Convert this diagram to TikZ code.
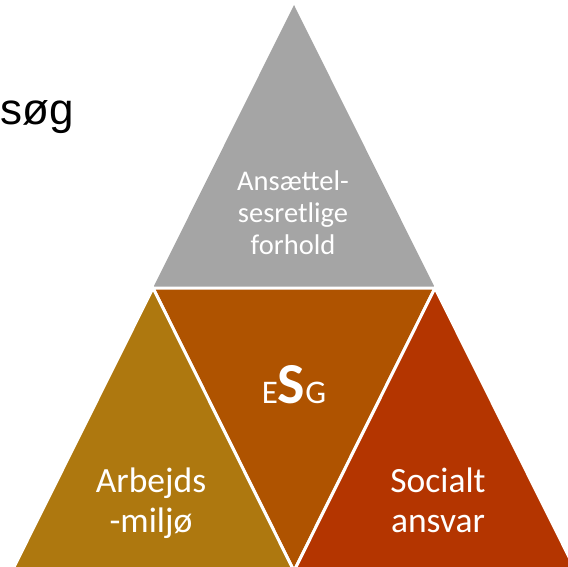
\documentclass[tikz,border=0pt]{standalone}
\usepackage{fontspec}
\setmainfont{Carlito}
\newfontfamily\arialfont{Liberation Sans}
\definecolor{topgray}{HTML}{A5A5A5}
\definecolor{midorange}{HTML}{AF5300}
\definecolor{leftgold}{HTML}{AE780F}
\definecolor{rightred}{HTML}{B43500}
\begin{document}
\begin{tikzpicture}[x=1pt,y=-1pt,
  tri/.style={draw=white,line width=3pt,line join=miter},
  lbl/.style={text=white,align=center,anchor=base},
]
\useasboundingbox (0,0) rectangle (568,567);
\begin{scope}
\clip (0,0) rectangle (568,567);
% vertices
\coordinate (apex) at (294,5);
\coordinate (bl) at (153,288);
\coordinate (br) at (435,288);
\coordinate (bm) at (294,571);
\coordinate (ll) at (12,571);
\coordinate (rr) at (576,571);
\fill[topgray] (apex) -- (br) -- (bl) -- cycle;
\draw[tri,fill=midorange] (bl) -- (br) -- (bm) -- cycle;
\draw[tri,fill=leftgold] (bl) -- (bm) -- (ll) -- cycle;
\draw[tri,fill=rightred] (br) -- (rr) -- (bm) -- cycle;
\end{scope}
\node[lbl,font=\fontsize{28.5}{32}\selectfont] (top) at (293,254) {Ansættel-\\sesretlige\\forhold};
\node[lbl,inner sep=0pt] (esg) at (294,403) {\fontsize{33}{36}\selectfont E\fontsize{58}{60}\selectfont\bfseries S\fontsize{33}{36}\selectfont\mdseries G};
\node[lbl,font=\fontsize{35.5}{40}\selectfont] (arb) at (151,532) {Arbejds\\-miljø};
\node[lbl,font=\fontsize{35.5}{40}\selectfont] (soc) at (438,532) {Socialt\\ansvar};
\node[anchor=base west,inner sep=0pt,font=\arialfont\fontsize{44}{50}\selectfont] (sog) at (0,125) {søg};
\end{tikzpicture}
\end{document}
